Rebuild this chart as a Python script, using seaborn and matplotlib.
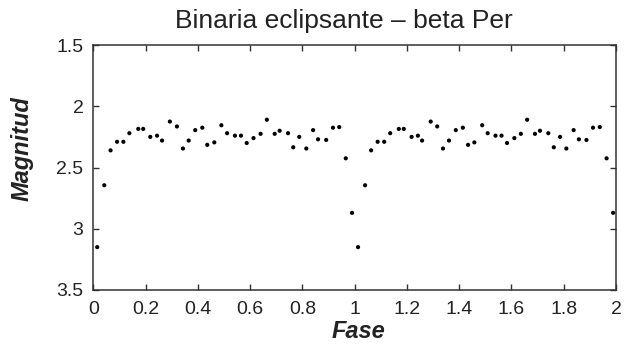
import matplotlib
matplotlib.use("Agg")
import matplotlib.pyplot as plt
import seaborn as sns
import pandas as pd

# Phase-folded light curve of beta Per (two cycles shown)
fase = [
    0.015, 0.042, 0.066, 0.091, 0.115, 0.138, 0.172, 0.191, 0.218, 0.244,
    0.263, 0.293, 0.320, 0.343, 0.365, 0.390, 0.417, 0.436, 0.463, 0.490,
    0.512, 0.542, 0.565, 0.587, 0.613, 0.640, 0.664, 0.694, 0.713, 0.745,
    0.765, 0.788, 0.815, 0.841, 0.860, 0.891, 0.917, 0.941, 0.966, 0.990,
    1.013, 1.040, 1.063, 1.088, 1.113, 1.136, 1.169, 1.188, 1.218, 1.242,
    1.258, 1.291, 1.316, 1.338, 1.361, 1.387, 1.414, 1.434, 1.458, 1.488,
    1.509, 1.539, 1.562, 1.583, 1.611, 1.636, 1.660, 1.690, 1.709, 1.741,
    1.762, 1.786, 1.810, 1.838, 1.858, 1.887, 1.912, 1.938, 1.964, 1.989,
]
magnitud = [
    3.15, 2.645, 2.36, 2.29, 2.29, 2.22, 2.185, 2.185, 2.25, 2.24,
    2.28, 2.125, 2.165, 2.345, 2.28, 2.195, 2.175, 2.315, 2.295, 2.155,
    2.22, 2.24, 2.24, 2.30, 2.26, 2.225, 2.11, 2.225, 2.20, 2.22,
    2.335, 2.25, 2.345, 2.195, 2.27, 2.275, 2.175, 2.17, 2.425, 2.87,
    3.15, 2.645, 2.36, 2.29, 2.29, 2.22, 2.185, 2.185, 2.25, 2.24,
    2.28, 2.125, 2.165, 2.345, 2.28, 2.195, 2.175, 2.315, 2.295, 2.155,
    2.22, 2.24, 2.24, 2.30, 2.26, 2.225, 2.11, 2.225, 2.20, 2.22,
    2.335, 2.25, 2.345, 2.195, 2.27, 2.275, 2.175, 2.17, 2.425, 2.87,
]
x_ticks = [0, 0.2, 0.4, 0.6, 0.8, 1, 1.2, 1.4, 1.6, 1.8, 2]
x_tick_labels = ["0", "0.2", "0.4", "0.6", "0.8", "1", "1.2", "1.4", "1.6", "1.8", "2"]
y_ticks = [1.5, 2, 2.5, 3, 3.5]
y_tick_labels = ["1.5", "2", "2.5", "3", "3.5"]

titulo = "Binaria eclipsante \u2013 beta Per"
x_label = "Fase"
y_label = "Magnitud"

sns.set_style("ticks")
plt.rcParams["font.family"] = ["Liberation Sans", "DejaVu Sans"]

df = pd.DataFrame({"Fase": fase, "Magnitud": magnitud})

W, H = 638, 344
fig = plt.figure(figsize=(W / 100, H / 100), dpi=100)
ax = fig.add_axes([93.3 / W, 1 - 290 / H, (616 - 93.3) / W, (290 - 45) / H])

sns.scatterplot(data=df, x="Fase", y="Magnitud", ax=ax, color="black",
                s=9, linewidth=0, edgecolor="none")

ax.set_xlim(0, 2)
ax.set_ylim(3.5, 1.5)
ax.set_xticks(x_ticks)
ax.set_xticklabels(x_tick_labels)
ax.set_yticks(y_ticks)
ax.set_yticklabels(y_tick_labels)

ax.tick_params(axis="both", which="both", direction="in", length=4.5, width=1.0,
               color="#333333", labelsize=14, labelcolor="#222222",
               top=True, right=True)
ax.tick_params(axis="x", pad=8)
ax.tick_params(axis="y", pad=7)

for sp in ax.spines.values():
    sp.set_visible(True)
    sp.set_color("#333333")
    sp.set_linewidth(1.1)

ax.set_xlabel("")
ax.set_ylabel("")
fig.text(358 / W, 1 - 331 / H, x_label, fontsize=17, fontweight="bold",
         fontstyle="italic", color="#222222", ha="center", va="center")
fig.text(22 / W, 1 - 149 / H, y_label, fontsize=17, fontweight="bold",
         fontstyle="italic", color="#222222", ha="center", va="center",
         rotation=90)
fig.text(344 / W, 1 - 28 / H, titulo, fontsize=19, color="#222222",
         ha="center", va="baseline")

fig.savefig("out.png", dpi=100, facecolor="white")
